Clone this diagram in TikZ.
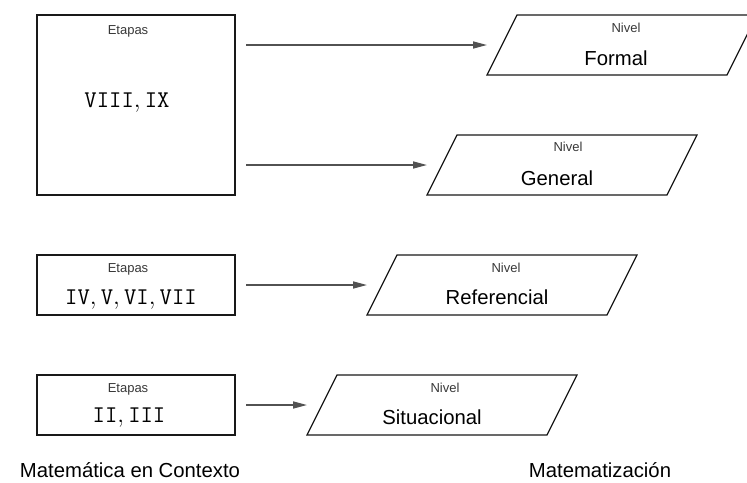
\documentclass[tikz,border=0pt]{standalone}
\usepackage{fontspec}
\setmainfont{Liberation Sans}
\usetikzlibrary{arrows.meta}
\begin{document}
\begin{tikzpicture}[x=1pt,y=-1pt,
  stagebox/.style={draw=black!90, line width=1.2pt, inner sep=0pt, outer sep=0pt, anchor=north west},
  levelbox/.style={draw=black!90, line width=1.2pt, line join=miter},
  conn/.style={draw=black!68, line width=1.6pt, shorten <=11pt, -{Triangle[length=14pt,width=7pt]}},
  smalltxt/.style={font=\fontsize{13}{15}\selectfont, text=black!78, anchor=base, inner sep=0pt},
  bigtxt/.style={font=\fontsize{20.3}{24}\selectfont, anchor=base, inner sep=0pt},
  romantxt/.style={font=\fontsize{24}{28}\selectfont, anchor=base, inner sep=0pt},
  captxt/.style={font=\fontsize{20.3}{23}\selectfont, anchor=base, inner sep=0pt}]
\clip (0,0) rectangle (747,482);
\fill[white] (0,0) rectangle (747,482);

% stage boxes
\node[stagebox, minimum width=198pt, minimum height=180pt] (bA) at (37,15) {};
\node[stagebox, minimum width=198pt, minimum height=60pt] (bB) at (37,255) {};
\node[stagebox, minimum width=198pt, minimum height=60pt] (bC) at (37,375) {};

\node[smalltxt] (eA) at (128,34.3) {Etapas};
\node[romantxt] (rA) at (127,107) {$\mathtt{VIII},\mathtt{IX}$};
\node[smalltxt] (eB) at (128,272.6) {Etapas};
\node[romantxt] (rB) at (131,304) {$\mathtt{IV},\mathtt{V},\mathtt{VI},\mathtt{VII}$};
\node[smalltxt] (eC) at (128,392.6) {Etapas};
\node[romantxt] (rC) at (129,422) {$\mathtt{II},\mathtt{III}$};

% level parallelograms
\draw[levelbox] (487,75) -- (517,15) -- (757,15) -- (727,75) -- cycle;
\draw[levelbox] (427,195) -- (457,135) -- (697,135) -- (667,195) -- cycle;
\draw[levelbox] (367,315) -- (397,255) -- (637,255) -- (607,315) -- cycle;
\draw[levelbox] (307,435) -- (337,375) -- (577,375) -- (547,435) -- cycle;

\coordinate (pA) at (487,45);
\coordinate (pB) at (427,165);
\coordinate (pC) at (367,285);
\coordinate (pD) at (307,405);

\node[smalltxt] (nA) at (626,32.3) {Nivel};
\node[bigtxt] (lA) at (616,65) {Formal};
\node[smalltxt] (nB) at (568,151.7) {Nivel};
\node[bigtxt] (lB) at (557,185) {General};
\node[smalltxt] (nC) at (506,272.5) {Nivel};
\node[bigtxt] (lC) at (497,304.3) {Referencial};
\node[smalltxt] (nD) at (445,392.5) {Nivel};
\node[bigtxt] (lD) at (432,424) {Situacional};

% connectors
\draw[conn] (bA.east |- pA) -- (pA);
\draw[conn] (bA.east |- pB) -- (pB);
\draw[conn] (bB.east |- pC) -- (pC);
\draw[conn] (bC.east |- pD) -- (pD);

% captions
\node[captxt] (cL) at (130,477) {Matemática en Contexto};
\node[captxt] (cR) at (600,477.5) {Matematización};
\end{tikzpicture}
\end{document}
